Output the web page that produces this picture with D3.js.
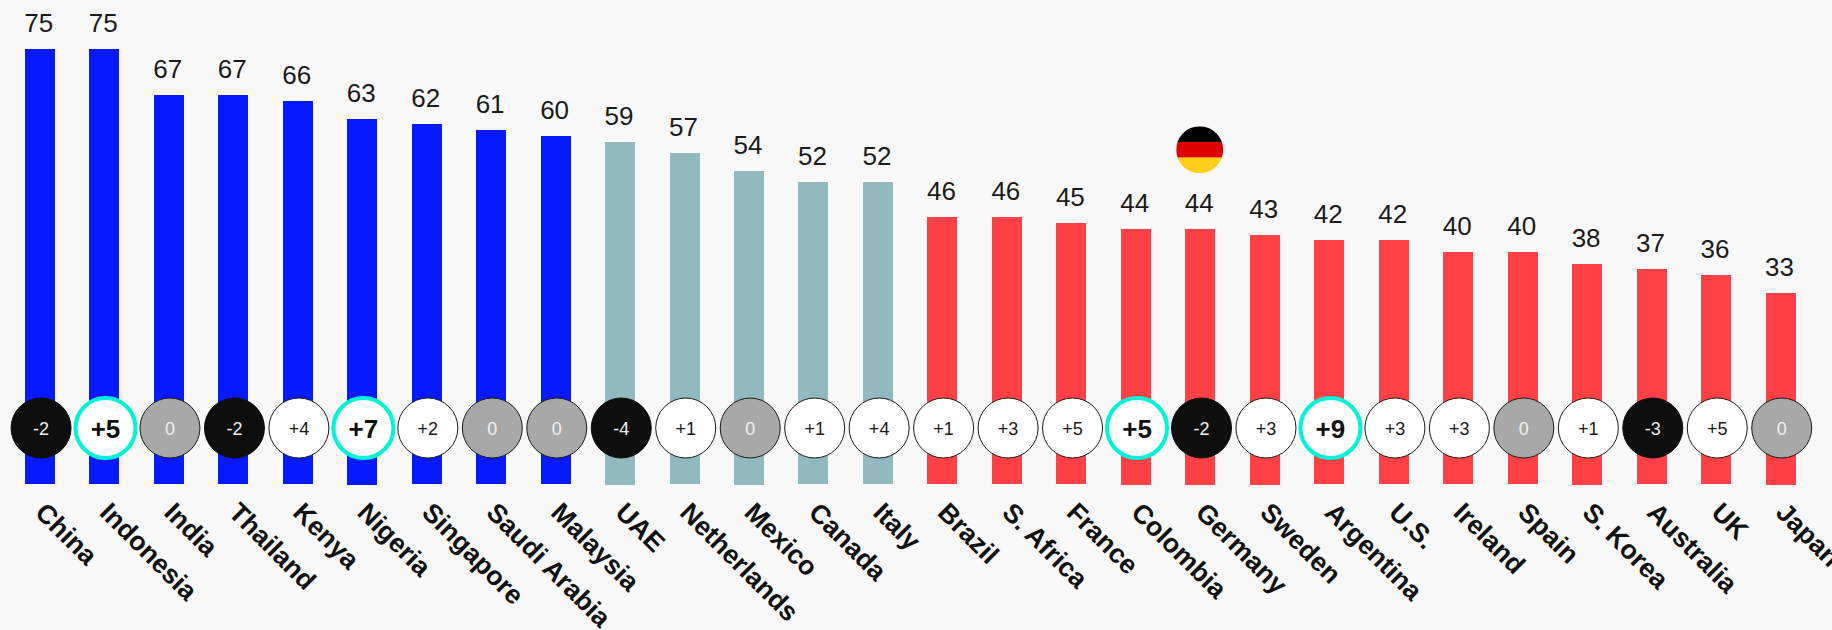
<!DOCTYPE html>
<html>
  <head>
    <meta charset="utf-8" />
    <script src="https://d3js.org/d3.v7.min.js"></script>
    <style>
      html,
      body {
        margin: 0;
        background: #f8f8f8;
      }
      svg {
        display: block;
        font-family: "Liberation Sans", Arial, sans-serif;
      }
    </style>
  </head>

  <body>
    <div id="vis"></div>

    <script>
      // Data
      var countries = [
        "China", "Indonesia", "India", "Thailand", "Kenya", "Nigeria", "Singapore",
        "Saudi Arabia", "Malaysia", "UAE", "Netherlands", "Mexico", "Canada", "Italy",
        "Brazil", "S. Africa", "France", "Colombia", "Germany", "Sweden", "Argentina",
        "U.S.", "Ireland", "Spain", "S. Korea", "Australia", "UK", "Japan"
      ];
      var scores = [
        75, 75, 67, 67, 66, 63, 62, 61, 60, 59, 57, 54, 52, 52,
        46, 46, 45, 44, 44, 43, 42, 42, 40, 40, 38, 37, 36, 33
      ];
      var changes = [
        -2, 5, 0, -2, 4, 7, 2, 0, 0, -4, 1, 0, 1, 4,
        1, 3, 5, 5, -2, 3, 9, 3, 3, 0, 1, -3, 5, 0
      ];
      var tiers = [
        "high", "high", "high", "high", "high", "high", "high", "high", "high",
        "mid", "mid", "mid", "mid", "mid",
        "low", "low", "low", "low", "low", "low", "low",
        "low", "low", "low", "low", "low", "low", "low"
      ];
      var highlighted = ["Indonesia", "Nigeria", "Colombia", "Argentina"];
      var flagCountry = "Germany";
      var flagStripes = ["#000000", "#dd0000", "#ffce1a"];

      var width = 1832;
      var height = 630;
      var barWidth = 30;
      var baseline = 484;

      var tierColor = d3
        .scaleOrdinal()
        .domain(["high", "mid", "low"])
        .range(["#0619ff", "#92b8c0", "#ff4044"]);

      var rows = d3.range(countries.length).map(function (i) {
        return {
          country: countries[i],
          score: scores[i],
          change: changes[i],
          tier: tiers[i],
          big: highlighted.includes(countries[i]),
        };
      });

      var svg = d3
        .select("#vis")
        .append("svg")
        .attr("width", width)
        .attr("height", height);

      var x = d3.scalePoint().domain(countries).range([39.83, 1780.52]);
      var y = d3.scaleLinear().domain([0, 75]).range([baseline, 49]);

      // Draw bars, snapped to whole pixels
      svg
        .selectAll(".bar")
        .data(rows)
        .enter()
        .append("rect")
        .attr("class", "bar")
        .attr("x", function (d) {
          return Math.round(x(d.country) - barWidth / 2);
        })
        .attr("y", function (d) {
          return Math.round(y(d.score));
        })
        .attr("width", barWidth)
        .attr("height", function (d) {
          return Math.ceil(baseline - y(d.score));
        })
        .style("fill", function (d) {
          return tierColor(d.tier);
        });

      // Score labels
      svg
        .selectAll(".score")
        .data(rows)
        .enter()
        .append("text")
        .attr("class", "score")
        .attr("x", function (d) {
          return x(d.country) - 1;
        })
        .attr("y", function (d) {
          return y(d.score) - 17;
        })
        .attr("text-anchor", "middle")
        .style("font-size", "26px")
        .style("fill", "#1a1a1a")
        .text(function (d) {
          return d.score;
        });

      // Change badges
      var badges = svg
        .selectAll(".badge")
        .data(rows)
        .enter()
        .append("g")
        .attr("class", "badge")
        .attr("transform", function (d) {
          return "translate(" + (x(d.country) + 1.2) + ",428)";
        });

      badges
        .append("circle")
        .attr("r", 30)
        .style("fill", function (d) {
          if (d.change < 0) return "#0e0e0e";
          return d.change === 0 ? "#a8a8a8" : "#ffffff";
        })
        .style("stroke", function (d) {
          if (d.big) return "#00f5d4";
          return d.change < 0 ? "#0e0e0e" : "#1a1a1a";
        })
        .style("stroke-width", function (d) {
          return d.big ? 4 : 1;
        });

      badges
        .append("text")
        .attr("text-anchor", "middle")
        .attr("y", function (d) {
          return d.big ? 10 : 7;
        })
        .style("font-size", function (d) {
          return d.big ? "26px" : "18px";
        })
        .style("font-weight", function (d) {
          return d.big ? "bold" : "normal";
        })
        .style("fill", function (d) {
          if (d.big) return "#111111";
          return d.change > 0 ? "#1a1a1a" : "#f0f0f0";
        })
        .text(function (d) {
          return d.change > 0 ? "+" + d.change : d.change;
        });

      // Country labels, from a bottom axis
      var axis = svg
        .append("g")
        .attr("transform", "translate(0,500)")
        .call(d3.axisBottom(x).tickSize(0).tickPadding(0));

      axis.select(".domain").remove();

      axis
        .selectAll("text")
        .attr("dy", null)
        .attr("y", null)
        .attr("x", null)
        .attr("transform", "translate(-6.6,14) rotate(45)")
        .attr("text-anchor", "start")
        .style("font-family", "'Liberation Sans', Arial, sans-serif")
        .style("font-size", "26.7px")
        .style("font-weight", "bold")
        .style("fill", "#111111");

      // Flag above the Germany bar
      var flagR = 23.5;
      var flagY = d3.scaleBand().domain(flagStripes).range([-flagR, flagR]);

      svg
        .append("clipPath")
        .attr("id", "flag-clip")
        .append("circle")
        .attr("r", flagR);

      svg
        .append("g")
        .attr(
          "transform",
          "translate(" + (x(flagCountry) - 0.6) + "," + (y(scores[countries.indexOf(flagCountry)]) - 79) + ")"
        )
        .append("g")
        .attr("clip-path", "url(#flag-clip)")
        .selectAll("rect")
        .data(flagStripes)
        .enter()
        .append("rect")
        .attr("x", -flagR)
        .attr("y", function (d) {
          return flagY(d);
        })
        .attr("width", flagR * 2)
        .attr("height", flagY.bandwidth())
        .style("fill", function (d) {
          return d;
        });
    </script>
  </body>
</html>
